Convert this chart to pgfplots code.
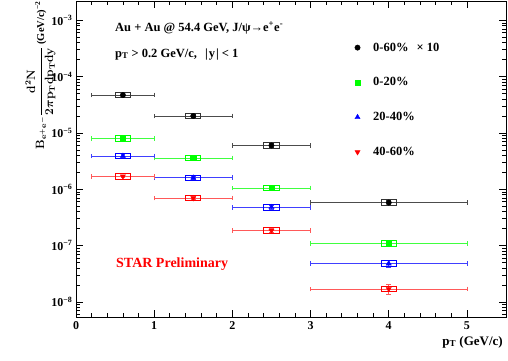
\documentclass[border=0pt]{standalone}
\usepackage{fontspec}
\setmainfont{Liberation Serif}
\usepackage{pgfplots}
\usepackage{pgfplotstable}
\pgfplotsset{compat=1.18}

\pgfdeclareplotmark{sysbox}{%
  \pgfpathrectangle{\pgfqpoint{-7.6pt}{-2.8pt}}{\pgfqpoint{15.2pt}{5.6pt}}%
  \pgfusepathqstroke}

\newcommand{\ylab}{{\boldmath$\mathbf{B}_{\mathbf{e^+e^-}}\displaystyle\frac{\mathbf{d^2N}}{\mathbf{2}\pi\mathbf{p_T dp_T dy}}$}\hspace{2pt}{\fontsize{10.5}{11}\selectfont(GeV/c)\textsuperscript{−2}}}
\newcommand{\ptcut}{p\textsubscript{T} > 0.2 GeV/c,\hspace{8pt}\textbar\hspace{1pt}y\hspace{1pt}\textbar{} < 1}

% 0-60% x 10
\pgfplotstableread{
x   y       ex   ey
0.6 4.7e-5  0.4  2.0e-6
1.5 2.0e-5  0.5  1.0e-6
2.5 6.0e-6  0.5  4.0e-7
4.0 5.8e-7  1.0  6.0e-8
}\tabA
% 0-20%
\pgfplotstableread{
x   y       ex   ey
0.6 7.9e-6  0.4  4.0e-7
1.5 3.6e-6  0.5  2.0e-7
2.5 1.05e-6 0.5  8.0e-8
4.0 1.08e-7 1.0  1.2e-8
}\tabB
% 20-40%
\pgfplotstableread{
x   y       ex   ey
0.6 3.9e-6  0.4  2.0e-7
1.5 1.6e-6  0.5  1.0e-7
2.5 4.8e-7  0.5  4.0e-8
4.0 4.8e-8  1.0  7.0e-9
}\tabC
% 40-60%
\pgfplotstableread{
x   y       ex   ey
0.6 1.7e-6  0.4  1.0e-7
1.5 7.0e-7  0.5  5.0e-8
2.5 1.85e-7 0.5  1.6e-8
4.0 1.7e-8  1.0  3.5e-9
}\tabD

\begin{document}
\begin{tikzpicture}
\path[use as bounding box] (0pt,0pt) rectangle (508pt,360pt);
\begin{axis}[
  at={(76pt,43pt)}, anchor=south west,
  scale only axis, width=430pt, height=316pt,
  xmin=0, xmax=5.5,
  ymode=log, ymin=5.4e-9, ymax=2.2e-3,
  xtick={0,1,2,3,4,5}, minor x tick num=4,
  axis line style={line width=0.9pt},
  tick style={line width=0.7pt, black},
  major tick length=7pt, minor tick length=4pt,
  tick align=inside,
  /pgf/number format/assume math mode=true,
  ticklabel style={font=\bfseries\fontsize{12}{12}\selectfont},
  log number format basis/.code 2 args={\pgfmathtruncatemacro\myexp{-(#2)}10\textsuperscript{−\myexp}},
  xticklabel style={yshift=-1pt},
  legend style={at={(axis description cs:0.648,0.875)}, anchor=north west,
    draw=none, fill=none, inner sep=0pt, row sep=21pt,
    font=\bfseries\fontsize{12.5}{13}\selectfont},
  legend cell align=left,
  clip=false,
]
% systematic boxes
\addplot[only marks, mark=sysbox, black!80, line width=0.9pt, forget plot] table[x=x,y=y]{\tabA};
\addplot[only marks, mark=sysbox, green, line width=0.9pt, forget plot] table[x=x,y=y]{\tabB};
\addplot[only marks, mark=sysbox, blue, line width=0.9pt, forget plot] table[x=x,y=y]{\tabC};
\addplot[only marks, mark=sysbox, red, line width=0.9pt, forget plot] table[x=x,y=y]{\tabD};
% points
\addplot[only marks, mark=*, mark size=2.7pt, black,
  error bars/.cd, x dir=both, x explicit, y dir=both, y explicit,
  error bar style={black!70, line width=0.8pt},
  error mark options={rotate=90, black!70, mark size=2.4pt, line width=0.8pt}]
  table[x=x, y=y, x error=ex, y error=ey]{\tabA};
\addlegendentry{\hspace{11pt}0-60\%\hspace{8pt}× 10}
\addplot[only marks, mark=square*, mark size=2.6pt, green,
  error bars/.cd, x dir=both, x explicit, y dir=both, y explicit,
  error bar style={green!75, line width=0.8pt},
  error mark options={rotate=90, green!75, mark size=2.4pt, line width=0.8pt}]
  table[x=x, y=y, x error=ex, y error=ey]{\tabB};
\addlegendentry{\hspace{11pt}0-20\%}
\addplot[only marks, mark=triangle*, mark size=3pt, blue,
  error bars/.cd, x dir=both, x explicit, y dir=both, y explicit,
  error bar style={blue!75, line width=0.8pt},
  error mark options={rotate=90, blue!75, mark size=2.4pt, line width=0.8pt}]
  table[x=x, y=y, x error=ex, y error=ey]{\tabC};
\addlegendentry{\hspace{11pt}20-40\%}
\addplot[only marks, mark=triangle*, mark size=3pt, mark options={rotate=180}, red,
  error bars/.cd, x dir=both, x explicit, y dir=both, y explicit,
  error bar style={red!65, line width=0.8pt},
  error mark options={rotate=90, red!65, mark size=2.4pt, line width=0.8pt}]
  table[x=x, y=y, x error=ex, y error=ey]{\tabD};
\addlegendentry{\hspace{11pt}40-60\%}
\end{axis}
\node[anchor=base west, font=\bfseries\fontsize{12.5}{13}\selectfont, inner sep=0pt]
  at (115pt,329pt) {Au + Au @ 54.4 GeV, J/ψ→e\textsuperscript{+}e\textsuperscript{-}};
\node[anchor=base west, font=\bfseries\fontsize{12.5}{13}\selectfont, inner sep=0pt]
  at (115pt,303pt) {\ptcut};
\node[anchor=base west, font=\bfseries\fontsize{14}{15}\selectfont, text=red, inner sep=0pt]
  at (116pt,93pt) {STAR Preliminary};
\node[anchor=base east, font=\bfseries\fontsize{13}{13}\selectfont, inner sep=0pt]
  at (503pt,15pt) {p\textsubscript{T} (GeV/c)};
\node[rotate=90, anchor=base east, font=\bfseries\fontsize{11.5}{12}\selectfont, inner sep=0pt]
  at (44pt,359pt) {\ylab};
\end{tikzpicture}
\end{document}
